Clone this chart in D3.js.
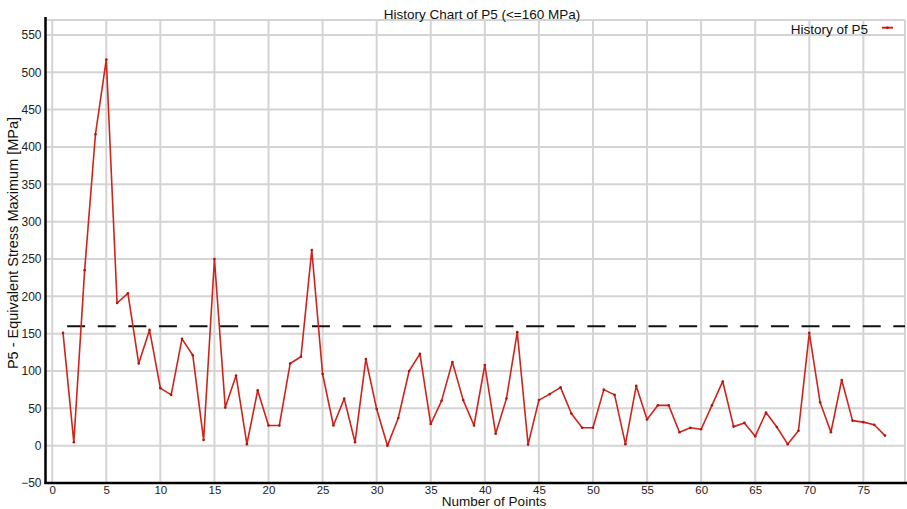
<!DOCTYPE html>
<html>
<head>
<meta charset="utf-8">
<script src="https://cdn.jsdelivr.net/npm/d3@7"></script>
<style>
  html, body { margin: 0; padding: 0; background: #fff; }
  svg { display: block; font-family: "Liberation Sans", Arial, sans-serif; }
</style>
</head>
<body>
<svg id="chart" width="907" height="509"></svg>
<script>
const title = "History Chart of P5 (<=160 MPa)";
const xTitle = "Number of Points";
const yTitle = "P5 - Equivalent Stress Maximum [MPa]";
const seriesName = "History of P5";
const limitValue = 160;

const pointIndex = d3.range(1, 78);
const stressValues = [
  151, 4.5, 235, 417, 517, 191, 204, 110, 155, 77,
  68, 143, 121, 7.5, 250, 51, 94, 2, 74, 27,
  27, 110, 119, 262, 96, 27, 63, 4.5, 116, 49,
  0, 37, 100, 123, 29, 60, 112, 61, 27, 108,
  16, 63, 152, 1.5, 61, 69, 78, 43, 24, 24,
  75, 68, 2, 80, 35, 54, 54, 18, 24, 22,
  54, 86, 25.5, 30.5, 12.5, 44.5, 25, 2, 20, 151,
  58, 18, 88, 33.5, 31.5, 28, 13.5
];
const xTicks = d3.range(0, 80, 5);
const yTicks = d3.range(-50, 551, 50);

(function () {
const svg = d3.select("#chart");
const W = 907, H = 509;
const mLeft = 45.5, mRight = 905, mTop = 20, mBottom = 483;

const x = d3.scaleLinear().domain([-0.62, 78.85]).range([mLeft, mRight]);
const y = d3.scaleLinear().domain([-50, 570]).range([mBottom, mTop]);

// grid
const grid = svg.append("g");
grid.selectAll("line.v").data(xTicks).enter().append("line")
  .attr("x1", d => x(d)).attr("x2", d => x(d))
  .attr("y1", mTop).attr("y2", mBottom)
  .attr("stroke", "#d4d4d4").attr("stroke-width", 2);
grid.selectAll("line.h").data(yTicks).enter().append("line")
  .attr("x1", mLeft).attr("x2", mRight)
  .attr("y1", d => y(d)).attr("y2", d => y(d))
  .attr("stroke", "#d4d4d4").attr("stroke-width", 2);
grid.append("line").attr("x1", mLeft).attr("x2", mRight).attr("y1", mTop).attr("y2", mTop)
  .attr("stroke", "#d4d4d4").attr("stroke-width", 2);
grid.append("line").attr("x1", mRight).attr("x2", mRight).attr("y1", mTop).attr("y2", mBottom)
  .attr("stroke", "#d4d4d4").attr("stroke-width", 2);

// axes
const xAxis = d3.axisBottom(x).tickValues(xTicks).tickSize(0).tickPadding(3);
const gx = svg.append("g").attr("transform", `translate(0,${mBottom})`).call(xAxis);
gx.select(".domain").attr("stroke", "#000").attr("stroke-width", 2.5).attr("d", `M${mLeft - 1},0H${W}`);
gx.selectAll("text").attr("font-size", 11.5).attr("fill", "#222")
  .attr("font-family", "'Liberation Sans Narrow', 'Liberation Sans', Arial, sans-serif");

const yAxis = d3.axisLeft(y).tickValues(yTicks).tickSize(0).tickPadding(4);
const gy = svg.append("g").attr("transform", `translate(${mLeft},0)`).call(yAxis);
gy.select(".domain").attr("stroke", "#000").attr("stroke-width", 2.5).attr("d", `M0,${mTop - 3}V${mBottom + 1}`);
gy.selectAll("text").attr("font-size", 12).attr("fill", "#222");

// limit dashed line
svg.append("line")
  .attr("x1", x(1.38)).attr("x2", mRight)
  .attr("y1", y(limitValue)).attr("y2", y(limitValue))
  .attr("stroke", "#111").attr("stroke-width", 2)
  .attr("stroke-dasharray", "18,12.6");

// data line
const data = pointIndex.map((p, i) => ({p, v: stressValues[i]}));
const line = d3.line().x(d => x(d.p)).y(d => y(d.v));
svg.append("path").datum(data)
  .attr("d", line).attr("fill", "none")
  .attr("stroke", "#d2231b").attr("stroke-width", 1.6)
  .attr("stroke-linejoin", "round");
svg.append("g").selectAll("circle").data(data).enter().append("circle")
  .attr("cx", d => x(d.p)).attr("cy", d => y(d.v)).attr("r", 1.3)
  .attr("fill", "#a81812");

// title
svg.append("text").attr("x", 482).attr("y", 18.5).attr("text-anchor", "middle")
  .attr("font-size", 13.5).attr("fill", "#111").text(title);

// axis titles
svg.append("text").attr("x", 494).attr("y", 506).attr("text-anchor", "middle")
  .attr("font-size", 13.5).attr("fill", "#111").text(xTitle);
svg.append("text").attr("transform", `translate(18,243) rotate(-90)`)
  .attr("text-anchor", "middle").attr("font-size", 14.5).attr("fill", "#111").text(yTitle);

// legend
svg.append("text").attr("x", 868).attr("y", 34).attr("text-anchor", "end")
  .attr("font-size", 13.5).attr("fill", "#111").text(seriesName);
svg.append("line").attr("x1", 882).attr("x2", 893).attr("y1", 27.7).attr("y2", 27.7)
  .attr("stroke", "#d2231b").attr("stroke-width", 2);
svg.append("circle").attr("cx", 887.5).attr("cy", 27.7).attr("r", 1.3).attr("fill", "#a81812");
})();
</script>
</body>
</html>
